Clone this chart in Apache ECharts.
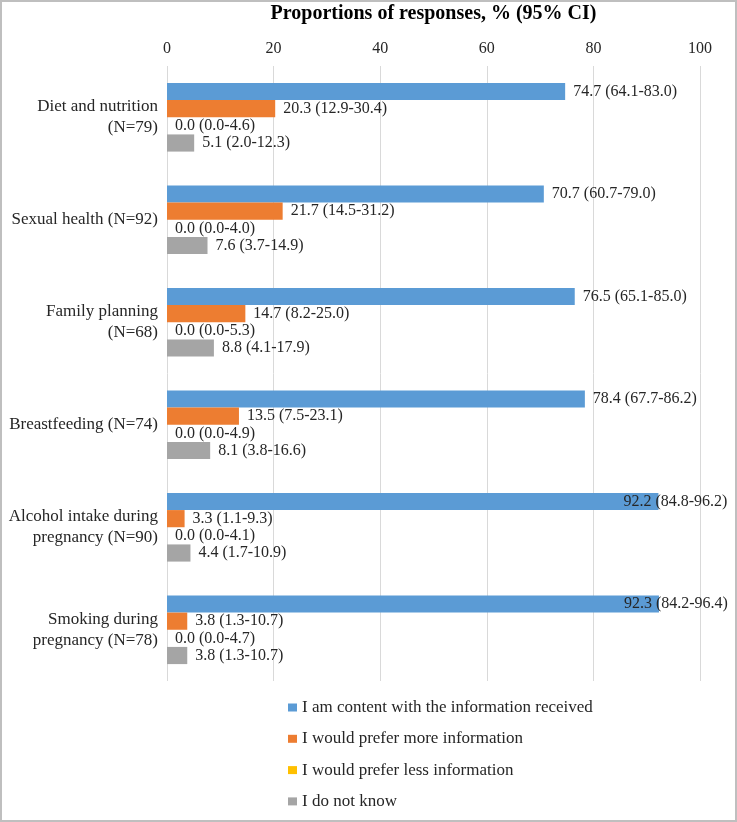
<!DOCTYPE html>
<html><head><meta charset="utf-8">
<script src="https://cdn.jsdelivr.net/npm/echarts@6/dist/echarts.min.js"></script>
<style>
html,body{margin:0;padding:0;background:#fff;}
#wrap{position:absolute;left:0;top:0;width:733px;height:818px;border:2px solid #bfbfbf;}
#c{position:absolute;left:-2px;top:-2px;width:737px;height:822px;}
</style></head>
<body><div id="wrap"><div id="c"></div></div>
<script>
const categories = ["Diet and nutrition\n(N=79)","Sexual health (N=92)","Family planning\n(N=68)","Breastfeeding (N=74)","Alcohol intake during\npregnancy (N=90)","Smoking during\npregnancy (N=78)"];
const seriesNames = ["I am content with the information received","I would prefer more information","I would prefer less information","I do not know"];
const content = [74.7,70.7,76.5,78.4,92.2,92.3];
const contentLo = [64.1,60.7,65.1,67.7,84.8,84.2];
const contentHi = [83.0,79.0,85.0,86.2,96.2,96.4];
const more = [20.3,21.7,14.7,13.5,3.3,3.8];
const moreLo = [12.9,14.5,8.2,7.5,1.1,1.3];
const moreHi = [30.4,31.2,25.0,23.1,9.3,10.7];
const less = [0.0,0.0,0.0,0.0,0.0,0.0];
const lessLo = [0.0,0.0,0.0,0.0,0.0,0.0];
const lessHi = [4.6,4.0,5.3,4.9,4.1,4.7];
const dontKnow = [5.1,7.6,8.8,8.1,4.4,3.8];
const dontKnowLo = [2.0,3.7,4.1,3.8,1.7,1.3];
const dontKnowHi = [12.3,14.9,17.9,16.6,10.9,10.7];
const xTicks = {min:0,max:100,interval:20};

const colors = ['#5B9BD5','#ED7D31','#FFC000','#A5A5A5'];
const vals = [content,more,less,dontKnow];
const los = [contentLo,moreLo,lessLo,dontKnowLo];
const his = [contentHi,moreHi,lessHi,dontKnowHi];
const font = '"Liberation Serif","Times New Roman",serif';

const series = vals.map((arr,si)=>({
  name: seriesNames[si],
  type:'bar',
  barCategoryGap:'33%',
  barGap:'0%',
  itemStyle:{color:colors[si]},
  data: arr.map((v,i)=>{
    const item = {value:v};
    if (v > 90) item.label = {offset:[-43,0]};
    return item;
  }),
  label:{
    show:true, position:'right', distance:8,
    fontFamily:font, fontSize:16, color:'#262626',
    formatter:(p)=>p.value.toFixed(1)+' ('+los[si][p.dataIndex].toFixed(1)+'-'+his[si][p.dataIndex].toFixed(1)+')'
  }
}));

const chart = echarts.init(document.getElementById('c'));
chart.setOption({
  animation:false,
  backgroundColor:'transparent',
  grid:{left:167,right:37,top:66,bottom:141,outerBoundsMode:'none',containLabel:false},
  xAxis:{
    type:'value', position:'top', min:xTicks.min, max:xTicks.max, interval:xTicks.interval,
    name:'Proportions of responses, % (95% CI)', nameLocation:'middle', nameGap:42,
    nameTextStyle:{fontFamily:font,fontSize:20,fontWeight:'bold',color:'#000'},
    axisLine:{show:false}, axisTick:{show:false},
    axisLabel:{fontFamily:font,fontSize:16,color:'#262626',margin:9},
    splitLine:{lineStyle:{color:'#d9d9d9',width:1}}
  },
  yAxis:{
    type:'category', inverse:true, data:categories,
    axisLine:{show:false}, axisTick:{show:false},
    axisLabel:{fontFamily:font,fontSize:17,color:'#262626',margin:9,lineHeight:21,align:'right'}
  },
  legend:{
    orient:'vertical', left:283, top:694, itemWidth:9, itemHeight:8, itemGap:14.3,
    icon:'rect', data:seriesNames,
    textStyle:{fontFamily:font,fontSize:17,color:'#262626'}
  },
  series:series
});
</script></body></html>
